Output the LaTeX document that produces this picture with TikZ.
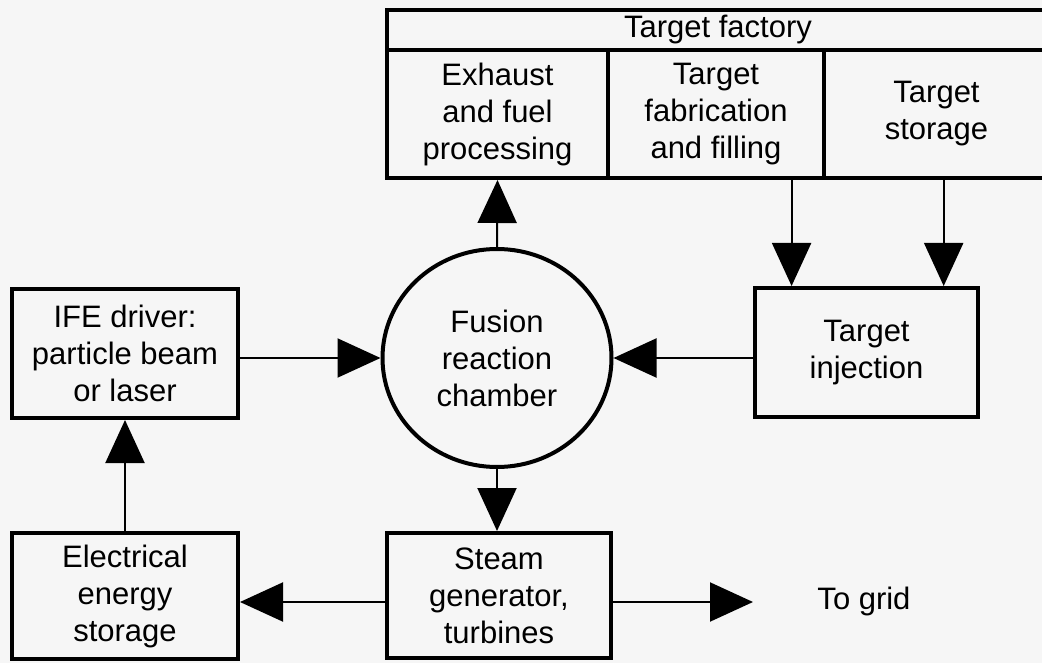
\documentclass[tikz,border=0pt]{standalone}
\usepackage{fontspec}
\setmainfont{Liberation Sans}
\usetikzlibrary{arrows.meta,shapes.geometric,calc}
\definecolor{bg}{RGB}{246,246,246}
\begin{document}
\begin{tikzpicture}[x=1pt,y=-1pt,
  box/.style={draw, line width=4pt, inner sep=0pt, align=center,
    font=\fontsize{31}{37}\selectfont},
  conn/.style={line width=2pt, -{Triangle[length=43pt,width=39pt]}},
  lbl/.style={inner sep=0pt, font=\fontsize{31}{37}\selectfont}]
\fill[bg] (0,0) rectangle (1042,663);
\useasboundingbox (0,0) rectangle (1042,663);
% target factory
\node[box, minimum width=662pt, minimum height=40pt] (tf) at (718,30) {Target factory};
\node[box, minimum width=221pt, minimum height=128pt] (exh) at (497.5,114) {Exhaust\\and fuel\\processing};
\node[box, minimum width=216pt, minimum height=128pt] (fab) at (716,114) {Target\\fabrication\\and filling};
\node[box, minimum width=225pt, minimum height=128pt] (sto) at (936.5,114) {Target\\storage};
% middle row
\node[box, minimum width=226pt, minimum height=129pt] (ife) at (125,353.5) {IFE driver:\\particle beam\\or laser};
\node[box, ellipse, minimum width=229pt, minimum height=218pt] (fus) at (497,358) {Fusion\\reaction\\chamber};
\node[box, minimum width=223pt, minimum height=129pt] (inj) at (866.5,352.5) {Target\\injection};
% bottom row
\node[box, minimum width=226pt, minimum height=126pt] (elec) at (125,596) {Electrical\\energy\\storage};
\node[box, minimum width=224pt, minimum height=125pt] (steam) at (499,595.5) {Steam\\generator,\\turbines};
\node[lbl] (grid) at (864,601) {To grid};
\coordinate (gridtip) at (753,602);
% connectors
\coordinate (a1) at ($(inj.north west)!0.17!(inj.north east)$);
\coordinate (a2) at ($(inj.north west)!0.84!(inj.north east)$);
\coordinate (sw) at ($(steam.west)+(0,6.5)$);
\draw[conn] (fus.north) -- (exh.south);
\draw[conn] (a1 |- fab.south) -- (a1);
\draw[conn] (a2 |- sto.south) -- (a2);
\draw[conn] (inj.west |- fus.east) -- (fus.east);
\draw[conn] (ife.east |- fus.west) -- (fus.west);
\draw[conn] (elec.north) -- (ife.south);
\draw[conn] (fus.south) -- (fus.south |- steam.north);
\draw[conn] (sw) -- (sw -| elec.east);
\draw[conn] (steam.east |- gridtip) -- (gridtip);
\end{tikzpicture}
\end{document}
